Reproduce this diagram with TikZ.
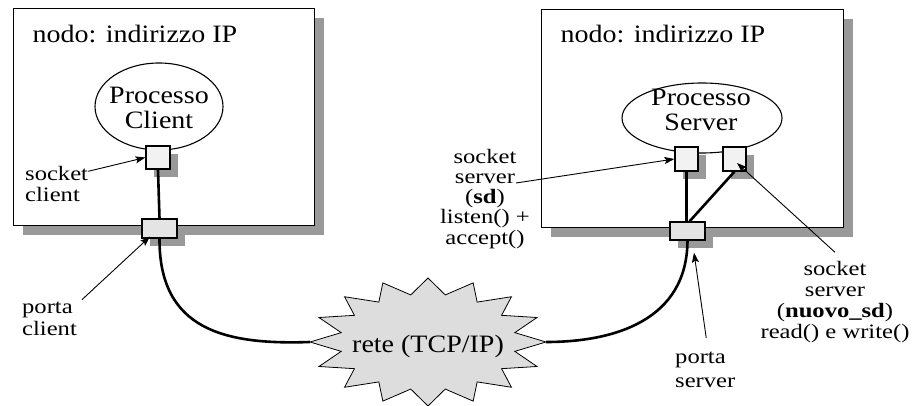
\documentclass[tikz,border=0pt]{standalone}
\usepackage{fontspec}
\usepackage{graphicx}
\setmainfont{Liberation Serif}
\usetikzlibrary{shapes.geometric,shadows,arrows.meta,calc}

\definecolor{shadowgray}{RGB}{153,153,153}
\definecolor{sockfill}{RGB}{242,242,242}
\definecolor{portfill}{RGB}{228,228,228}
\definecolor{netfill}{RGB}{221,221,221}

% widened text: one line, several centred lines, labels
\newcommand{\wbig}[1]{\scalebox{1.12}[1]{#1}}
\newcommand{\wbigml}[1]{\scalebox{1.12}[1]{\begin{tabular}{@{}c@{}}#1\end{tabular}}}
\newcommand{\wlbl}[2]{\scalebox{1.2}[1]{\begin{tabular}{@{}#1@{}}#2\end{tabular}}}

\begin{document}
\begin{tikzpicture}[x=1pt,y=-1pt,
  hostbox/.style={draw, line width=1.2pt, fill=white, anchor=north west,
    inner sep=0pt,
    general shadow={fill=shadowgray, shadow xshift=9pt, shadow yshift=-9pt}},
  procshape/.style={draw, ellipse, line width=1.1pt, inner sep=0pt},
  sockbox/.style={draw, line width=1.2pt, fill=sockfill, inner sep=0pt,
    general shadow={fill=shadowgray, shadow xshift=8pt, shadow yshift=-8pt}},
  portbox/.style={draw, line width=1.2pt, fill=portfill, inner sep=0pt,
    general shadow={fill=shadowgray, shadow xshift=8pt, shadow yshift=-8pt}},
  bigtext/.style={font=\fontsize{25}{25}\selectfont, inner sep=0pt},
  lbltext/.style={font=\fontsize{20.5}{21}\selectfont, inner sep=0pt},
  link/.style={line width=2.6pt},
  pointer/.style={line width=0.9pt, -{Stealth[length=10pt,width=7pt,inset=2pt]}}
]
\useasboundingbox (0,0) rectangle (913,406);

% hosts
\node[hostbox, minimum width=301pt, minimum height=217pt] (hostC) at (13,8) {};
\node[hostbox, minimum width=302pt, minimum height=218pt] (hostS) at (541,9) {};
\node[bigtext, anchor=base] (titleC) at (135,43) {\wbig{nodo: indirizzo IP}};
\node[bigtext, anchor=base] (titleS) at (663,43) {\wbig{nodo: indirizzo IP}};

% processes
\node[procshape, minimum width=128pt, minimum height=87pt] (procC) at (159,106.5) {};
\node[bigtext] (procCtext) at (159,111.5) {\wbigml{Processo\\Client}};
\node[procshape, minimum width=160pt, minimum height=70pt] (procS) at (702,118) {};
\node[bigtext] (procStext) at (701,113) {\wbigml{Processo\\Server}};

% sockets and ports
\node[sockbox, minimum width=24pt, minimum height=23pt] (sockC) at (158,157.5) {};
\node[portbox, minimum width=35pt, minimum height=19pt] (portC) at (159.5,228.5) {};
\node[sockbox, minimum width=23pt, minimum height=24pt] (sockSD) at (686.5,159) {};
\node[sockbox, minimum width=23pt, minimum height=24pt] (sockNew) at (734.5,159) {};
\node[portbox, minimum width=35pt, minimum height=18pt] (portS) at (687.5,231) {};

% network
\filldraw[fill=netfill, line width=0.8pt] (546,342)
  \foreach \k in {0,...,15}{
    -- ({428+0.75*118*cos(\k*22.5+11.25)},{342-0.75*64*sin(\k*22.5+11.25)})
    -- ({428+118*cos(\k*22.5+22.5)},{342-64*sin(\k*22.5+22.5)})
  } -- cycle;
\node[bigtext, anchor=base] (net) at (428,352) {\wbig{rete (TCP/IP)}};
\coordinate (netW) at (310,342);
\coordinate (netE) at (546,342);

% links
\draw[link] (sockC.south) -- (portC.north);
\draw[link] (portC.south) .. controls (159,330) and (225,345) .. (netW);
\draw[link] (sockSD.south) -- (sockSD.south |- portS.north);
\draw[link] (sockNew.south) -- ($(portS.north)+(2,0)$);
\draw[link] (portS.south) .. controls (687,320) and (615,342) .. (netE);

% labels
\node[lbltext, anchor=north west] (lblSockC) at (25,165.3) {\wlbl{l}{socket\\client}};
\node[lbltext, font=\fontsize{20.5}{22}\selectfont, anchor=north west] (lblPortC) at (22,297.6) {\wlbl{l}{porta\\client}};
\node[lbltext, font=\fontsize{20.5}{20}\selectfont, anchor=north] (lblSD) at (485,149)
  {\wlbl{c}{socket\\server\\(\textbf{sd})\\listen() +\\accept()}};
\node[lbltext, anchor=north] (lblNew) at (835,260.3)
  {\wlbl{c}{socket\\server\\(\textbf{nuovo\_sd})\\read() e write()}};
\node[lbltext, font=\fontsize{20.5}{24}\selectfont, anchor=north west] (lblPortS) at (675,346) {\wlbl{l}{porta\\server}};

% pointers
\draw[pointer] ([yshift=-6pt]lblSockC.north east) -- (sockC.west);
\draw[pointer] ([xshift=5pt,yshift=-2pt]lblPortC.north east) -- ([xshift=-9.5pt,yshift=2pt]portC.south);
\draw[pointer] ([xshift=31pt,yshift=-34pt]lblSD.north) -- (sockSD.west);
\draw[pointer] ([yshift=8pt]lblNew.north) -- ([xshift=2.5pt,yshift=-4pt]sockNew.center);
\draw[pointer] ([xshift=1pt,yshift=8pt]lblPortS.north) -- ([xshift=6.5pt,yshift=-12pt]portS.south);
\end{tikzpicture}
\end{document}
